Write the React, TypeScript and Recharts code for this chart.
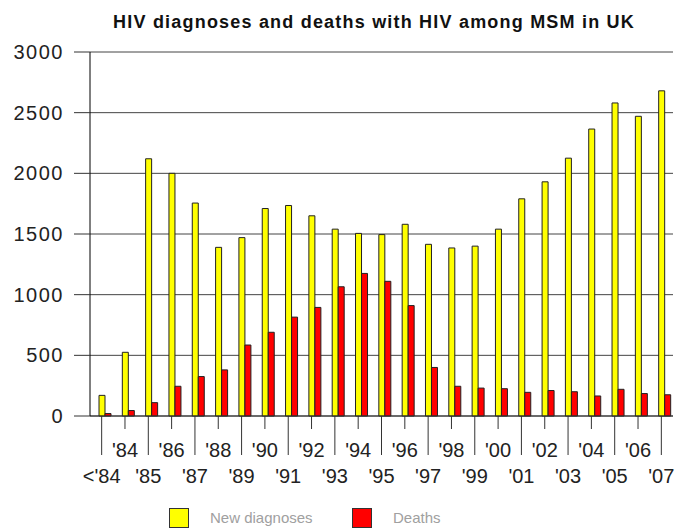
import React from 'react';
import { BarChart, Bar, XAxis, YAxis, CartesianGrid, Legend, Rectangle } from 'recharts';

const years = ["<'84", "'84", "'85", "'86", "'87", "'88", "'89", "'90", "'91", "'92", "'93", "'94", "'95",
  "'96", "'97", "'98", "'99", "'00", "'01", "'02", "'03", "'04", "'05", "'06", "'07"];
const newDiagnoses = [170, 525, 2120, 2000, 1755, 1390, 1470, 1710, 1735, 1650, 1540, 1505, 1495,
  1580, 1415, 1385, 1400, 1540, 1790, 1930, 2125, 2365, 2580, 2470, 2680];
const deaths = [20, 45, 110, 245, 325, 380, 585, 690, 815, 895, 1065, 1175, 1110,
  910, 400, 245, 230, 225, 195, 210, 200, 165, 220, 185, 175];
const yTicks = [0, 500, 1000, 1500, 2000, 2500, 3000];
const seriesNames = ['New diagnoses', 'Deaths'];

const data = years.map((year, i) => ({
  year,
  'New diagnoses': newDiagnoses[i],
  Deaths: deaths[i],
}));

const FONT = '"Liberation Sans", Arial, sans-serif';

// bars in the original sit a few px right of the category centre
const ShiftedBar = (props: any) => <Rectangle {...props} x={props.x + 3} />;

const YearTick = (props: any) => {
  const { x, y, payload, index } = props;
  const low = index % 2 === 0;
  return (
    <g>
      <line x1={x} x2={x} y1={y} y2={y + (low ? 39 : 13)} stroke="#333" />
      <text x={x} y={y + (low ? 67 : 41)} textAnchor="middle" fontSize={20} fill="#222" fontFamily={FONT}>
        {payload.value}
      </text>
    </g>
  );
};

const LegendBox = ({ payload }: any) => {
  const lefts = [169, 352];
  const items = seriesNames.map(name => (payload || []).find((p: any) => p.value === name)).filter(Boolean);
  return (
    <div style={{ position: 'relative', height: 34, fontFamily: FONT }}>
      {items.map((entry: any, i: number) => (
        <div key={entry.value} style={{ position: 'absolute', left: lefts[i], top: 14, display: 'flex', alignItems: 'center' }}>
          <div style={{ width: 18, height: 18, background: entry.color, border: '1px solid #333' }} />
          <span style={{ marginLeft: 21, fontSize: 15, color: '#a0a0a0', lineHeight: '20px' }}>{entry.value}</span>
        </div>
      ))}
    </div>
  );
};

export default function App() {
  return (
    <div style={{ position: 'absolute', left: 0, top: 0, width: 680, height: 528, background: '#fff' }}>
      <div style={{
        position: 'absolute', left: 0, top: 12, width: 748, textAlign: 'center',
        fontFamily: FONT, fontSize: 18, fontWeight: 'bold', letterSpacing: 1.2, color: '#111',
      }}>
        HIV diagnoses and deaths with HIV among MSM in UK
      </div>
      <BarChart width={680} height={528} data={data} margin={{ top: 52, right: 7, left: 0, bottom: 0 }}
        barGap={0} barSize={6}>
        <CartesianGrid horizontal vertical={false} stroke="#444" />
        <XAxis dataKey="year" interval={0} height={78} tickLine={false} tickSize={0} tickMargin={0}
          axisLine={{ stroke: '#333' }} tick={<YearTick />} />
        <YAxis domain={[0, 3000]} ticks={yTicks} width={90} tickSize={16} tickMargin={10}
          axisLine={{ stroke: '#000' }} tickLine={{ stroke: '#333' }}
          tick={{ fontSize: 20, fill: '#222', fontFamily: FONT, letterSpacing: 1.5 }} />
        <Legend verticalAlign="bottom" content={<LegendBox />} />
        <Bar dataKey="New diagnoses" fill="#ffff00" stroke="#222" strokeWidth={1} shape={ShiftedBar} isAnimationActive={false} />
        <Bar dataKey="Deaths" fill="#ff0000" stroke="#222" strokeWidth={1} shape={ShiftedBar} isAnimationActive={false} />
      </BarChart>
    </div>
  );
}
